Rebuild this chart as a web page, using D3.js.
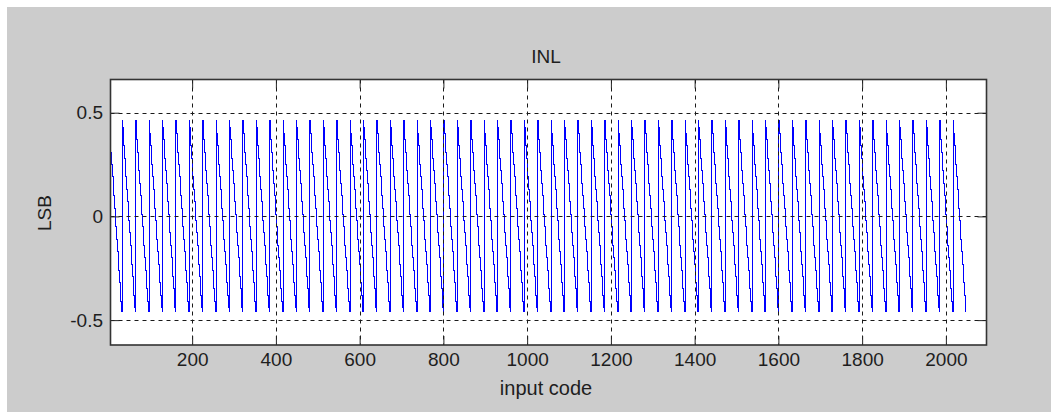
<!doctype html>
<html lang="en">
<head>
 <meta charset="utf-8">
 <title>INL</title>
 <style>
 html,body{margin:0;padding:0;background:#fff;}
 svg{display:block;}
 text{font-family:"Liberation Sans",Arial,sans-serif;fill:#1e1e1e;}
 </style>
 <script src="https://cdnjs.cloudflare.com/ajax/libs/d3/7.8.5/d3.min.js"></script>
</head>
<body>
 <svg width="1051" height="412"></svg>
 <script>

 // one tooth of the INL sawtooth, 32 codes (LSB)
 const toothProfile=[0.46,0.43,0.40,0.37,0.34,0.31,0.28,0.25,0.22,0.19,0.16,0.13,
 0.10,0.07,0.04,0.01,-0.02,-0.05,-0.08,-0.11,-0.14,-0.17,-0.20,-0.23,
 -0.26,-0.29,-0.32,-0.35,-0.38,-0.41,-0.44,-0.46];

 // codes where a new tooth starts (the jumps from -0.46 up to +0.46)
 const toothStarts=[0,32,64,96,128,160,192,224,256,288,320,352,384,416,448,480,
 512,544,576,608,640,672,704,736,768,800,832,864,896,928,960,992,
 1024,1056,1088,1120,1152,1184,1216,1248,1280,1312,1344,1376,1408,1440,1472,1504,
 1536,1568,1600,1632,1664,1696,1728,1760,1792,1824,1856,1888,1920,1952,1984,2016];

 const xTicks=[200,400,600,800,1000,1200,1400,1600,1800,2000];
 const yTicks=[-0.5,0,0.5];

 const data=[];
 toothStarts.forEach(s=>{
 toothProfile.forEach((v,i)=>data.push({code:s+i+1,inl:v}));
 });

 const svg=d3.select("svg");
 const W=1051,H=412;

 const box={left:110.5,right:986.5,top:79.5,bottom:345};

 svg.append("rect").attr("x",0).attr("y",0).attr("width",W).attr("height",H).attr("fill","#fff");
 svg.append("rect").attr("x",7).attr("y",7).attr("width",W-7).attr("height",H-7).attr("fill","#cccccc");

 const xScale=d3.scaleLinear().domain([5,2097]).range([box.left,box.right]);
 const yScale=d3.scaleLinear().domain([-0.62,0.66]).range([box.bottom,box.top]);

 svg.append("defs").append("clipPath").attr("id","clip")
 .append("rect")
 .attr("x",box.left).attr("y",box.top)
 .attr("width",box.right-box.left).attr("height",box.bottom-box.top);

 svg.append("rect")
 .attr("x",box.left).attr("y",box.top)
 .attr("width",box.right-box.left).attr("height",box.bottom-box.top)
 .attr("fill","#fff");

 // data line (stepped, no antialiasing, like the pixel stairs of the original)
 const line=d3.line().curve(d3.curveStepAfter).x(d=>xScale(d.code)).y(d=>yScale(d.inl));
 svg.append("path")
 .datum(data)
 .attr("clip-path","url(#clip)")
 .attr("d",line)
 .attr("fill","none")
 .attr("stroke","#0000ff")
 .attr("stroke-width",1)
 .attr("shape-rendering","crispEdges");

 // grid
 const grid=svg.append("g").attr("class","grid")
 .attr("stroke","#1a1a1a").attr("stroke-width",1).attr("stroke-dasharray","4,4");
 grid.selectAll(".vg").data(xTicks).enter().append("line")
 .attr("x1",d=>Math.round(xScale(d))+0.5).attr("x2",d=>Math.round(xScale(d))+0.5)
 .attr("y1",box.top).attr("y2",box.bottom);
 grid.selectAll(".hg").data(yTicks).enter().append("line")
 .attr("y1",d=>Math.round(yScale(d))+0.5).attr("y2",d=>Math.round(yScale(d))+0.5)
 .attr("x1",box.left).attr("x2",box.right);

 // axes with inward ticks on all four sides
 const tl=9;
 const xb=svg.append("g").attr("transform",`translate(0,${box.bottom})`)
 .call(d3.axisBottom(xScale).tickValues(xTicks).tickSize(-tl).tickPadding(8).tickFormat(d3.format("d")));
 const xt=svg.append("g").attr("transform",`translate(0,${box.top})`)
 .call(d3.axisTop(xScale).tickValues(xTicks).tickSize(-tl).tickFormat(""));
 const yl=svg.append("g").attr("transform",`translate(${box.left},0)`)
 .call(d3.axisLeft(yScale).tickValues(yTicks).tickSize(-tl).tickPadding(7.5).tickFormat(d=>d));
 const yr=svg.append("g").attr("transform",`translate(${box.right},0)`)
 .call(d3.axisRight(yScale).tickValues(yTicks).tickSize(-tl).tickFormat(""));

 [xb,xt,yl,yr].forEach(g=>{
 g.select(".domain").remove();
 g.selectAll(".tick line").attr("stroke","#262626");
 g.selectAll("text").style("font-size","19px").attr("fill","#1e1e1e")
 .style("font-family","'Liberation Sans',Arial,sans-serif");
 });

 svg.append("rect")
 .attr("x",box.left).attr("y",box.top)
 .attr("width",box.right-box.left).attr("height",box.bottom-box.top)
 .attr("fill","none").attr("stroke","#333").attr("stroke-width",1.6);

 svg.append("text").text("INL")
 .attr("x",546).attr("y",63)
 .attr("text-anchor","middle").style("font-size","19px");

 svg.append("text").text("input code")
 .attr("x",546).attr("y",395)
 .attr("text-anchor","middle").style("font-size","20px");

 svg.append("text").text("LSB")
 .attr("transform","translate(51,213) rotate(-90)")
 .attr("text-anchor","middle").style("font-size","19px");

 </script>
</body>
</html>
